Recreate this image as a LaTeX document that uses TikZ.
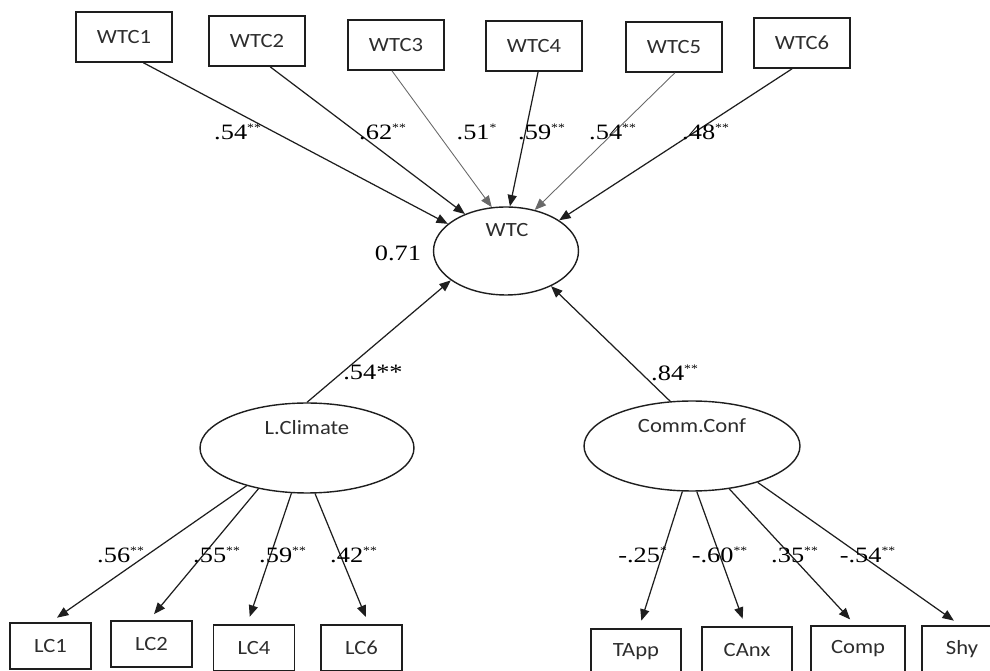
\documentclass[tikz,border=0pt]{standalone}
\usepackage{fontspec}
\setmainfont{Liberation Serif}
\newfontfamily\boxfont[FakeStretch=1.12]{Carlito}
\newfontfamily\coeffont[FakeStretch=1.2]{Liberation Serif}
\usetikzlibrary{arrows.meta,shapes.geometric,positioning}
\definecolor{linecol}{RGB}{30,30,30}
\definecolor{faintcol}{RGB}{105,105,105}
\definecolor{textcol}{RGB}{45,45,45}
\newcommand{\sig}[1]{\textsuperscript{\fontsize{6.5}{7}\selectfont#1}}

\begin{document}
\begin{tikzpicture}[x=0.02cm,y=-0.02cm,>={Triangle[length=6.5pt,width=5.2pt]},
  obs/.style={draw=linecol,line width=0.9pt,inner sep=0pt,text=textcol,
    font=\boxfont\fontsize{11.5}{13}\selectfont},
  lat/.style={draw=linecol,ellipse,line width=0.8pt,inner sep=0pt},
  lname/.style={text=textcol,font=\boxfont\fontsize{11.5}{13}\selectfont},
  coef/.style={inner sep=1pt,font=\coeffont\fontsize{12.5}{14}\selectfont},
  load/.style={->,line width=0.7pt,draw=linecol}]
  \clip (0,0) rectangle (990,671);
  % latent factors
  \node[lat,minimum width=2.9cm,minimum height=1.76cm] (wtc) at (506,251) {};
  \node[lat,minimum width=4.28cm,minimum height=1.8cm] (lc) at (307,448) {};
  \node[lat,minimum width=4.32cm,minimum height=1.8cm] (cc) at (692,446) {};
  \node[lname] (wtcname) at (507,230) {WTC};
  \node[lname] (lcname) at (307,428) {L.Climate};
  \node[lname] (ccname) at (692,426) {Comm.Conf};
  \node[coef] (r2) at (398,253) {0.71};
  % WTC items
  \foreach \i/\x/\y in {1/124/37,2/257/41,3/396/45,4/534/46,5/674/47,6/802/43}
    {\node[obs,minimum width=1.92cm,minimum height=1cm] (w\i) at (\x,\y) {WTC\i};}
  \foreach \i/\a/\b/\c/\w in {1/-53/155/linecol/0.7,2/-63/138/linecol/0.7,
      3/-99/108/faintcol/0.5,4/-81/85/linecol/0.7,5/-88/55/faintcol/0.5,6/-111/30/linecol/0.7}
    {\draw[load,draw=\c,line width=\w pt] (w\i.\a) -- (wtc.\b);}
  \foreach \n/\x/\t in {c1/238/{.54\sig{**}},c2/383/{.62\sig{**}},
      c3/477/{.51\sig{*}},c4/542/{.59\sig{**}},
      c5/613/{.54\sig{**}},c6/706/{.48\sig{**}}}
    {\node[coef] (\n) at (\x,132) {\t};}
  % structural paths
  \draw[load] (lc.north) -- (wtc.-152);
  \draw[load] (cc.116) -- (wtc.-38);
  \node[coef] (plc) at (373,372) {.54**};
  \node[coef] (pcc) at (675,373) {.84\sig{**}};
  % L.Climate items
  \foreach \n/\x/\y in {LC1/50.5/646,LC2/151.5/644,LC4/254/648,LC6/361.5/648}
    {\node[obs,minimum width=1.62cm,minimum height=0.92cm] (\n) at (\x,\y) {\n};}
  \foreach \n/\a/\b in {LC1/-148/90,LC2/-140/96,LC4/-109/106,LC6/-80/73}
    {\draw[load,shorten >=4.5pt] (lc.\a) -- (\n.\b);}
  \foreach \n/\x/\t in {l1/121/{.56\sig{**}},l2/217/{.55\sig{**}},
      l3/283/{.59\sig{**}},l4/354/{.42\sig{**}}}
    {\node[coef] (\n) at (\x,555) {\t};}
  % Comm.Conf items
  \foreach \n/\x/\y/\s in {TApp/636/652/1.8cm,CAnx/747/650/1.8cm,Comp/858/649/1.88cm,Shy/962/649/1.6cm}
    {\node[obs,minimum width=\s,minimum height=0.92cm] (\n) at (\x,\y) {\n};}
  \foreach \n/\a/\b in {TApp/-102/83,CAnx/-84/94,Comp/-49/96,Shy/-29/94}
    {\draw[load,shorten >=4.5pt] (cc.\a) -- (\n.\b);}
  \foreach \n/\x/\t in {k1/643/{-.25\sig{*}},k2/720/{-.60\sig{**}},
      k3/795/{.35\sig{**}},k4/868/{-.54\sig{**}}}
    {\node[coef] (\n) at (\x,555) {\t};}
\end{tikzpicture}
\end{document}
